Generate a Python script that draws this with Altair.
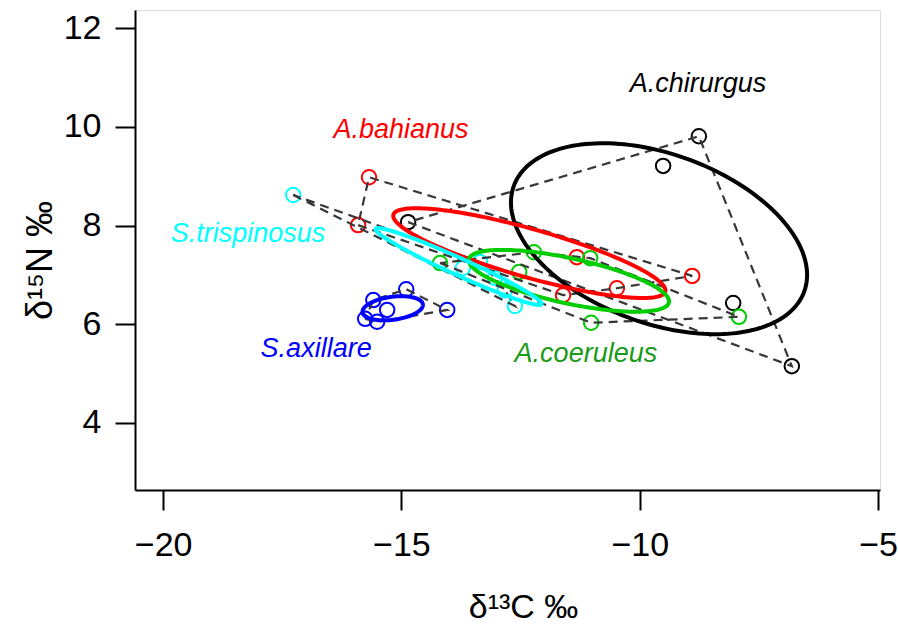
import numpy as np
import pandas as pd
import altair as alt

# ---------------- data ----------------
groups = ["A.chirurgus", "A.bahianus", "A.coeruleus", "S.trispinosus", "S.axillare"]
colors = ["#000000", "#ff0000", "#00cd00", "#00ffff", "#0000ff"]
label_colors = ["#000000", "#ff0000", "#1a9a1a", "#00ffff", "#0000ff"]

chirurgus_x = [-14.86, -8.76, -9.51, -8.04, -6.81]
chirurgus_y = [8.07, 9.81, 9.21, 6.43, 5.15]

bahianus_x = [-15.68, -15.91, -11.32, -8.90, -10.48, -11.61]
bahianus_y = [8.98, 8.01, 7.36, 6.98, 6.73, 6.59]

coeruleus_x = [-14.19, -12.22, -12.53, -11.04, -11.02, -7.92]
coeruleus_y = [7.24, 7.46, 7.06, 7.34, 6.03, 6.15]

trispinosus_x = [-17.27, -13.71, -13.35, -13.04, -12.62, -12.83]
trispinosus_y = [8.62, 7.14, 7.26, 6.94, 6.37, 6.69]

axillare_x = [-14.90, -14.04, -15.59, -15.30, -15.76, -15.51]
axillare_y = [6.71, 6.29, 6.49, 6.29, 6.11, 6.05]

label_x = [-8.78, -15.01, -11.13, -18.22, -16.79]
label_y = [10.87, 9.93, 5.40, 7.83, 5.50]

x_ticks = [-20, -15, -10, -5]
y_ticks = [4, 6, 8, 10, 12]

series = {
    "A.chirurgus": (chirurgus_x, chirurgus_y),
    "A.bahianus": (bahianus_x, bahianus_y),
    "A.coeruleus": (coeruleus_x, coeruleus_y),
    "S.trispinosus": (trispinosus_x, trispinosus_y),
    "S.axillare": (axillare_x, axillare_y),
}

# ---------------- derived tables ----------------
pts_rows, ell_rows, hull_rows = [], [], []


def convex_hull(p):
    p = sorted(p)
    def cross(o, a, b):
        return (a[0] - o[0]) * (b[1] - o[1]) - (a[1] - o[1]) * (b[0] - o[0])
    lower, upper = [], []
    for q in p:
        while len(lower) >= 2 and cross(lower[-2], lower[-1], q) <= 0:
            lower.pop()
        lower.append(q)
    for q in reversed(p):
        while len(upper) >= 2 and cross(upper[-2], upper[-1], q) <= 0:
            upper.pop()
        upper.append(q)
    return lower[:-1] + upper[:-1]


for g, (xs, ys) in series.items():
    for a, b in zip(xs, ys):
        pts_rows.append({"group": g, "x": a, "y": b})
    # standard ellipse from the sample covariance
    xy = np.vstack([xs, ys])
    mu = xy.mean(axis=1)
    cov = np.cov(xy)
    vals, vecs = np.linalg.eigh(cov)
    t = np.linspace(0, 2 * np.pi, 181)
    circ = np.vstack([np.cos(t), np.sin(t)])
    ell = (vecs @ np.diag(np.sqrt(vals)) @ circ) + mu[:, None]
    for i in range(ell.shape[1]):
        ell_rows.append({"group": g, "o": i, "x": ell[0, i], "y": ell[1, i]})
    # convex hull, closed
    h = convex_hull(list(zip(xs, ys)))
    h = h + [h[0]]
    for i, (a, b) in enumerate(h):
        hull_rows.append({"group": g, "o": i, "x": a, "y": b})

pts = pd.DataFrame(pts_rows)
ells = pd.DataFrame(ell_rows)
hulls = pd.DataFrame(hull_rows)
labels = pd.DataFrame({"group": groups, "x": label_x, "y": label_y, "lc": label_colors})

# ---------------- chart ----------------
FONT = "DejaVu Sans Condensed, Liberation Sans Narrow, Liberation Sans, Arial, sans-serif"
LFONT = "Liberation Sans, Arial, sans-serif"

xsc = alt.Scale(domain=[-20.59, -4.96], nice=False, zero=False)
ysc = alt.Scale(domain=[2.64, 12.37], nice=False, zero=False)
csc = alt.Scale(domain=groups, range=colors)

xax = alt.Axis(values=x_ticks, title="δ¹³C ‰", grid=False, format="d",
               domainColor="black", domainWidth=2, tickColor="black", tickWidth=2,
               tickSize=20, labelFontSize=34, labelFont=LFONT, labelColor="black",
               labelPadding=18, titleFont=LFONT, titleFontSize=34, titleFontWeight="normal",
               titleColor="black", titleX=388, titleY=117, titleBaseline="middle",
               titleAlign="center")
yax = alt.Axis(values=y_ticks, title="δ¹⁵N ‰", grid=False, format="d",
               domainColor="black", domainWidth=2, tickColor="black", tickWidth=2,
               tickSize=20, labelFontSize=34, labelFont=LFONT, labelColor="black",
               labelPadding=14, titleFont=LFONT, titleFontSize=36, titleFontWeight="normal",
               titleColor="black", titleX=-95, titleY=250, titleAngle=270,
               titleBaseline="middle", titleAlign="center")

X = alt.X("x:Q", scale=xsc, axis=xax)
Y = alt.Y("y:Q", scale=ysc, axis=yax)

points = alt.Chart(pts).mark_point(shape="circle", filled=False, size=210, strokeWidth=2,
                                   opacity=1).encode(
    x=X, y=Y, color=alt.Color("group:N", scale=csc, legend=None)
)

hull = alt.Chart(hulls).mark_line(strokeDash=[9, 6], strokeWidth=2.2, color="#383838").encode(
    x=X, y=Y, detail="group:N", order="o:Q"
)

ellipse = alt.Chart(ells).mark_line(strokeWidth=4).encode(
    x=X, y=Y, color=alt.Color("group:N", scale=csc, legend=None), detail="group:N", order="o:Q"
)

text = alt.Chart(labels).mark_text(fontStyle="italic", fontSize=27, font=LFONT,
                                   align="center", baseline="middle").encode(
    x=X, y=Y, text="group:N", color=alt.Color("lc:N", scale=None)
)

chart = alt.layer(points, hull, ellipse, text).properties(
    width=745, height=480,
    autosize=alt.AutoSizeParams(type="none"),
    padding={"left": 135, "top": 10, "right": 18, "bottom": 134},
).configure_view(stroke=None).configure(background="white")

chart.save("out.html", embed_options={"renderer": "svg", "actions": False})
